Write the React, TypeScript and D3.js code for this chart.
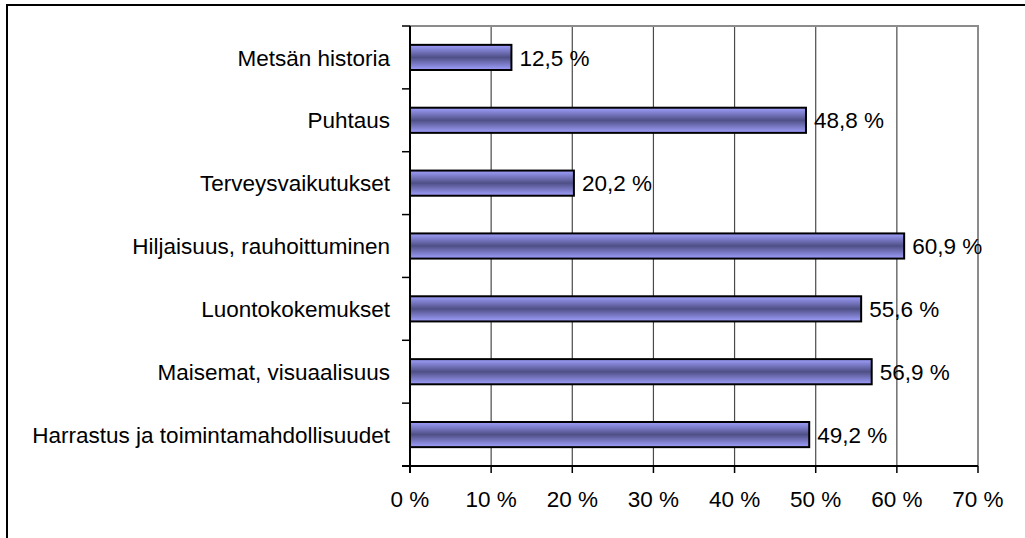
import React, { useEffect, useRef } from 'react';
import * as d3 from 'd3';

const categories = [
    'Metsän historia',
    'Puhtaus',
    'Terveysvaikutukset',
    'Hiljaisuus, rauhoittuminen',
    'Luontokokemukset',
    'Maisemat, visuaalisuus',
    'Harrastus ja toimintamahdollisuudet'
];
const shares = [12.5, 48.8, 20.2, 60.9, 55.6, 56.9, 49.2];
const xTicks = [0, 10, 20, 30, 40, 50, 60, 70];

export default function App() {
    const svgRef = useRef<SVGSVGElement>(null);

    useEffect(() => {
        const width = 1025;
        const height = 538;
        const left = 410, right = 978, top = 26, bottom = 466;
        const font = '"Liberation Sans", Arial, sans-serif';
        const fontSize = '22.5px';

        const svg = d3.select(svgRef.current)
            .attr('width', width)
            .attr('height', height);
        svg.selectAll('*').remove();

        const data = categories.map((c, i) => ({ name: c, value: shares[i] }));

        const xScale = d3.scaleLinear().domain([0, 70]).range([left, right]);
        const yScale = d3.scaleBand<string>()
            .domain(categories)
            .range([top, bottom])
            .paddingInner(0.6)
            .paddingOuter(0.3);

        // bar gradient, light at edges, dark in the middle
        const grad = svg.append('defs').append('linearGradient')
            .attr('id', 'barGrad')
            .attr('x1', 0).attr('y1', 0).attr('x2', 0).attr('y2', 1);
        grad.append('stop').attr('offset', '0%').attr('stop-color', '#a0a0ff');
        grad.append('stop').attr('offset', '50%').attr('stop-color', '#4f4f86');
        grad.append('stop').attr('offset', '100%').attr('stop-color', '#a0a0ff');

        // outer frame (runs past the right and bottom edge)
        svg.append('path')
            .attr('d', `M7,${height + 5}V5H${width + 5}`)
            .attr('fill', 'none')
            .attr('stroke', '#000')
            .attr('stroke-width', 2);

        // gridlines
        svg.append('g')
            .selectAll('line')
            .data(xTicks.slice(1))
            .enter().append('line')
            .attr('x1', d => xScale(d)).attr('x2', d => xScale(d))
            .attr('y1', top).attr('y2', bottom)
            .attr('stroke', '#4a4a4a')
            .attr('stroke-width', 1.2);

        // plot area border top/right
        svg.append('path')
            .attr('d', `M${left},${top}H${right}V${bottom}`)
            .attr('fill', 'none')
            .attr('stroke', '#8c8c8c')
            .attr('stroke-width', 2);

        // bars
        svg.append('g')
            .selectAll('rect')
            .data(data)
            .enter().append('rect')
            .attr('x', xScale(0))
            .attr('y', d => yScale(d.name)!)
            .attr('width', d => xScale(d.value) - xScale(0))
            .attr('height', yScale.bandwidth())
            .attr('fill', 'url(#barGrad)')
            .attr('stroke', '#000')
            .attr('stroke-width', 2);

        // value labels
        svg.append('g')
            .selectAll('text')
            .data(data)
            .enter().append('text')
            .attr('x', d => xScale(d.value) + 8)
            .attr('y', d => yScale(d.name)! + yScale.bandwidth() / 2)
            .attr('dy', '0.36em')
            .style('font-family', font)
            .style('font-size', fontSize)
            .attr('fill', '#000')
            .text(d => `${d.value.toFixed(1).replace('.', ',')} %`);

        // y axis: line, ticks at band edges, labels
        const yAxis = svg.append('g');
        yAxis.append('line')
            .attr('x1', left).attr('x2', left)
            .attr('y1', top).attr('y2', bottom + 7)
            .attr('stroke', '#000').attr('stroke-width', 2);
        yAxis.selectAll('line.tick')
            .data(d3.range(categories.length + 1))
            .enter().append('line')
            .attr('class', 'tick')
            .attr('x1', left - 8).attr('x2', left)
            .attr('y1', i => top + i * yScale.step())
            .attr('y2', i => top + i * yScale.step())
            .attr('stroke', '#000').attr('stroke-width', 1.5);
        yAxis.selectAll('text')
            .data(categories)
            .enter().append('text')
            .attr('x', left - 20)
            .attr('y', d => yScale(d)! + yScale.bandwidth() / 2)
            .attr('dy', '0.36em')
            .attr('text-anchor', 'end')
            .style('font-family', font)
            .style('font-size', fontSize)
            .text(d => d);

        // x axis
        const xAxis = svg.append('g');
        xAxis.append('line')
            .attr('x1', left - 8).attr('x2', right)
            .attr('y1', bottom).attr('y2', bottom)
            .attr('stroke', '#000').attr('stroke-width', 2);
        xAxis.selectAll('line.tick')
            .data(xTicks)
            .enter().append('line')
            .attr('class', 'tick')
            .attr('x1', d => xScale(d)).attr('x2', d => xScale(d))
            .attr('y1', bottom).attr('y2', bottom + 7)
            .attr('stroke', '#000').attr('stroke-width', 1.5);
        xAxis.selectAll('text')
            .data(xTicks)
            .enter().append('text')
            .attr('x', d => xScale(d))
            .attr('y', bottom + 41)
            .attr('text-anchor', 'middle')
            .style('font-family', font)
            .style('font-size', fontSize)
            .text(d => `${d} %`);
    }, []);

    return (
        <svg ref={svgRef} style={{ position: 'fixed', left: 0, top: 0, background: '#fff' }}></svg>
    );
}
